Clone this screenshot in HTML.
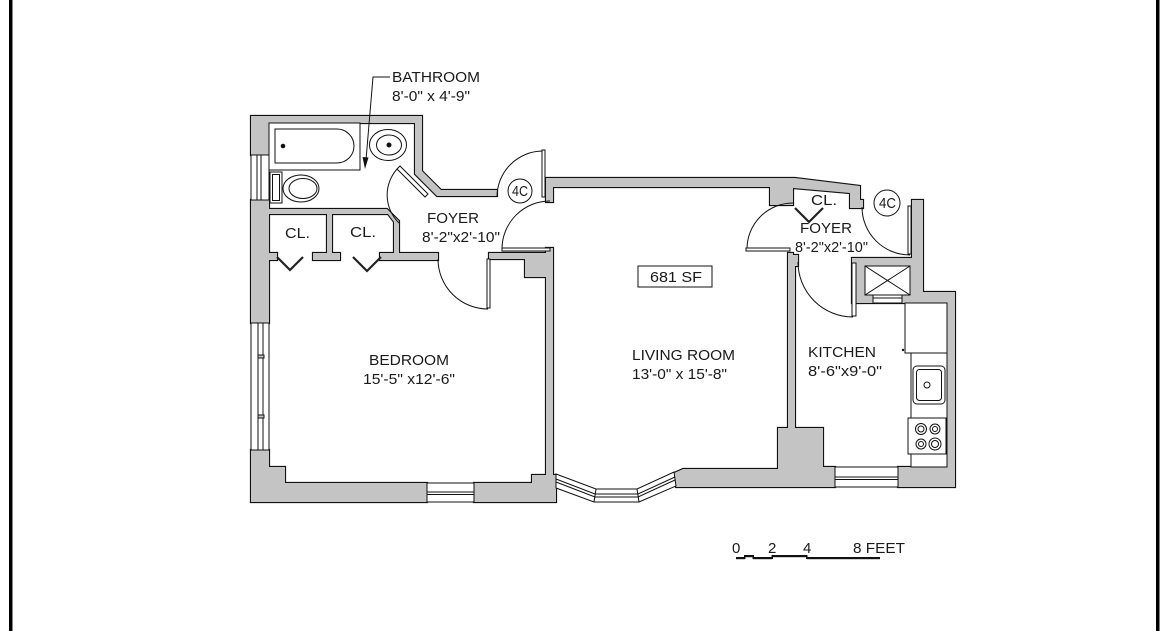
<!DOCTYPE html>
<html><head><meta charset="utf-8"><style>
html,body{margin:0;padding:0;background:#fff;}
svg{display:block}
text{font-family:"Liberation Sans",Arial,sans-serif;fill:#1a1a1a;font-size:15px;}
</style></head><body>
<svg width="1167" height="631" viewBox="0 0 1167 631" xmlns="http://www.w3.org/2000/svg" xmlns:xlink="http://www.w3.org/1999/xlink">
<defs>
<g id="walls">
 <polygon points="251,116 422,116 422,171 441,190 497,190 497,196 437,196 415,174 415,123 269,123 269,155 251,155"/>
 <polygon points="251,200 269,200 269,323 251,323"/>
 <polygon points="269,209 387,209 399,221 399,253 394,253 394,222 388,214 332,214 332,254 327,254 327,214 269,214"/>
 <rect x="269" y="253" width="8" height="7"/>
 <rect x="313" y="253" width="27" height="7"/>
 <rect x="380" y="253" width="58" height="7"/>
 <polygon points="489,253 546,253 546,248 553,248 553,475 556,475 556,502 474,502 474,483 532,483 532,475 546,475 546,277 525,277 525,259 489,259"/>
 <polygon points="251,450 269,450 269,467 285,467 285,483 427,483 427,502 251,502"/>
 <polygon points="546,178 795,178 860,186 860,200 863,200 863,208 850,208 850,193 793,188 793,205 770,205 770,187 553,187 553,202 546,202"/>
 <polygon points="788,253 793,253 793,255 798,255 798,266 795,266 795,428 823,428 823,467 835,467 835,487 676,487 672,474 683,469 778,469 778,428 788,428"/>
 <polygon points="852,258 912,258 912,200 923,200 923,292 955,292 955,487 898,487 898,467 947,467 947,303 852,303"/>
</g>
</defs>
<rect width="1167" height="631" fill="#fff"/>
<rect x="9" y="0" width="3.5" height="631" fill="#000"/>
<rect x="1156" y="0" width="3.5" height="631" fill="#000"/>

<use xlink:href="#walls" href="#walls" fill="#c4c4c4" stroke="#111" stroke-width="2.2" stroke-linejoin="miter"/>
<use xlink:href="#walls" href="#walls" fill="#c4c4c4" stroke="none"/>

<g fill="#fff" stroke="#111" stroke-width="1">
 <!-- bathroom window -->
 <rect x="251" y="155" width="18" height="45"/>
 <line x1="257" y1="155" x2="257" y2="200"/>
 <line x1="261" y1="155" x2="261" y2="200"/>
 <!-- bedroom left window -->
 <rect x="251" y="323" width="18" height="127"/>
 <line x1="258" y1="323" x2="258" y2="450"/>
 <line x1="263" y1="323" x2="263" y2="450"/>
 <rect x="258" y="355" width="6" height="3" fill="#c4c4c4"/>
 <rect x="258" y="415" width="6" height="3" fill="#c4c4c4"/>
 <!-- bedroom bottom window -->
 <rect x="427" y="483" width="47" height="19"/>
 <line x1="427" y1="492" x2="474" y2="492"/>
 <line x1="427" y1="494.5" x2="474" y2="494.5"/>
 <!-- kitchen window -->
 <rect x="835" y="467" width="63" height="20"/>
 <line x1="835" y1="477" x2="898" y2="477"/>
 <line x1="835" y1="479.5" x2="898" y2="479.5"/>
 <!-- bay window -->
 <polygon points="556,474 596,489 637,489 674,472 676,486 639,502 594,502 556,488"/>
 <polyline fill="none" points="556,479 595,494 638,494 675,477"/>
 <polyline fill="none" points="556,482 595,497 638,497 675,480"/>
 <line x1="596" y1="489" x2="594" y2="502"/>
 <line x1="637" y1="489" x2="639" y2="502"/>
 <!-- shaft -->
 <rect x="865" y="266" width="45" height="29"/>
 <line x1="865" y1="266" x2="910" y2="295"/>
 <line x1="910" y1="266" x2="865" y2="295"/>
 <rect x="873" y="295" width="29" height="8"/>
 <line x1="873" y1="298" x2="902" y2="298"/>
</g>

<!-- doors -->
<g fill="none" stroke="#111" stroke-width="1">
 <path d="M399,167 A39,39 0 0 0 399,223"/>
 <path d="M543,151 A46,46 0 0 0 497,197"/>
 <path d="M502,249 A48,48 0 0 1 550,201"/>
 <path d="M438,259 A50,50 0 0 0 488,309"/>
 <path d="M747,249 A46,46 0 0 1 793,203"/>
 <path d="M862,207 A48,48 0 0 0 910,255"/>
 <path d="M798,262 A55,55 0 0 0 853,317"/>
</g>
<g fill="#fff" stroke="#111" stroke-width="1">
 <polygon points="397,169 400,166 428,194 425,197"/>
 <rect x="542" y="150" width="3" height="47"/>
 <rect x="502" y="248" width="48" height="3"/>
 <rect x="487" y="259" width="3" height="49"/>
 <rect x="746" y="248" width="44" height="3"/>
 <rect x="908" y="206" width="3" height="48"/>
 <rect x="852" y="263" width="4" height="53"/>
</g>
<!-- closet bifold -->
<g fill="none" stroke="#222" stroke-width="2.2">
 <polyline points="277,257 290,270 303,257"/>
 <polyline points="353,257 367,271 381,257"/>
 <polyline points="795,208 809,222 823,208"/>
</g>

<!-- bathroom fixtures -->
<g fill="#fff" stroke="#111" stroke-width="1">
 <rect x="269" y="123" width="91" height="47"/>
 <path d="M275,129 H337 A17,17 0 0 1 337,163 H275 Z"/>
 <rect x="270" y="172" width="12" height="31"/>
 <rect x="272.5" y="174.5" width="7" height="26"/>
 <ellipse cx="301" cy="188.5" rx="18" ry="13.5"/>
 <ellipse cx="303" cy="188.5" rx="14" ry="10"/>
 <ellipse cx="388" cy="145" rx="18.5" ry="15.5"/>
 <ellipse cx="389" cy="145" rx="12.5" ry="10"/>
</g>
<circle cx="283" cy="146" r="2.3" fill="#111"/>
<circle cx="389" cy="145" r="2.5" fill="#111"/>

<!-- kitchen fixtures -->
<g fill="#fff" stroke="#111" stroke-width="1">
 <rect x="905" y="303" width="42" height="50"/>
 <rect x="911" y="353" width="36" height="114"/>
 <rect x="913" y="366" width="32" height="38" rx="4"/>
 <rect x="916.5" y="369.5" width="25" height="31" rx="3"/>
 <circle cx="927" cy="385" r="3"/>
 <rect x="908" y="418" width="38" height="36"/>
 <circle cx="921" cy="429" r="5.5"/><circle cx="921" cy="429" r="3"/>
 <circle cx="935" cy="429" r="5"/><circle cx="935" cy="429" r="2.5"/>
 <circle cx="921" cy="444" r="5"/><circle cx="921" cy="444" r="2.5"/>
 <circle cx="935" cy="444" r="6"/><circle cx="935" cy="444" r="3.5"/>
</g>
<circle cx="903" cy="350" r="1.2" fill="#111"/>

<!-- 4C circles, 681 box -->
<g fill="#fff" stroke="#111" stroke-width="1">
 <circle cx="520" cy="191" r="12"/>
 <circle cx="887" cy="203" r="13"/>
 <rect x="638" y="266" width="74" height="21"/>
</g>

<!-- leader -->
<polyline points="390,77 373,77 366,160" fill="none" stroke="#111" stroke-width="1"/>
<polygon points="365,169 362.5,157 368.5,157.5" fill="#111"/>

<!-- texts -->
<text x="392" y="82" textLength="88" lengthAdjust="spacingAndGlyphs">BATHROOM</text>
<text x="392" y="101" textLength="78" lengthAdjust="spacingAndGlyphs">8'-0" x 4'-9"</text>
<text x="427" y="223" textLength="52" lengthAdjust="spacingAndGlyphs">FOYER</text>
<text x="422" y="242" textLength="78" lengthAdjust="spacingAndGlyphs">8'-2"x2'-10"</text>
<text x="285" y="238" textLength="25" lengthAdjust="spacingAndGlyphs">CL.</text>
<text x="350" y="237" textLength="26" lengthAdjust="spacingAndGlyphs">CL.</text>
<text x="512" y="196" font-size="14" textLength="16" lengthAdjust="spacingAndGlyphs">4C</text>
<text x="879" y="208" font-size="14" textLength="17" lengthAdjust="spacingAndGlyphs">4C</text>
<text x="369" y="365" textLength="80" lengthAdjust="spacingAndGlyphs">BEDROOM</text>
<text x="363" y="384" textLength="92" lengthAdjust="spacingAndGlyphs">15'-5" x12'-6"</text>
<text x="650" y="282" textLength="52" lengthAdjust="spacingAndGlyphs">681 SF</text>
<text x="632" y="360" textLength="103" lengthAdjust="spacingAndGlyphs">LIVING ROOM</text>
<text x="632" y="379" textLength="95" lengthAdjust="spacingAndGlyphs">13'-0" x 15'-8"</text>
<text x="811" y="205" textLength="26" lengthAdjust="spacingAndGlyphs">CL.</text>
<text x="800" y="233" textLength="52" lengthAdjust="spacingAndGlyphs">FOYER</text>
<text x="795" y="252" textLength="73" lengthAdjust="spacingAndGlyphs">8'-2"x2'-10"</text>
<text x="808" y="357" textLength="68" lengthAdjust="spacingAndGlyphs">KITCHEN</text>
<text x="808" y="376" textLength="74" lengthAdjust="spacingAndGlyphs">8'-6"x9'-0"</text>

<!-- scale -->
<g font-size="14">
<text x="732" y="553">0</text>
<text x="768" y="553">2</text>
<text x="803" y="553">4</text>
<text x="853" y="553" textLength="52" lengthAdjust="spacingAndGlyphs">8 FEET</text>
</g>
<g fill="#111">
 <rect x="736" y="557" width="9" height="2.2"/>
 <rect x="745" y="555" width="8" height="2.2"/>
 <rect x="753" y="557" width="19" height="2.2"/>
 <rect x="772" y="555" width="35" height="2.2"/>
 <rect x="807" y="557" width="73" height="2.2"/>
 <rect x="744" y="555" width="1.5" height="4"/>
 <rect x="752.5" y="555" width="1.5" height="4"/>
 <rect x="771.5" y="555" width="1.5" height="4"/>
 <rect x="806" y="555" width="1.5" height="4"/>
</g>
</svg>
</body></html>
